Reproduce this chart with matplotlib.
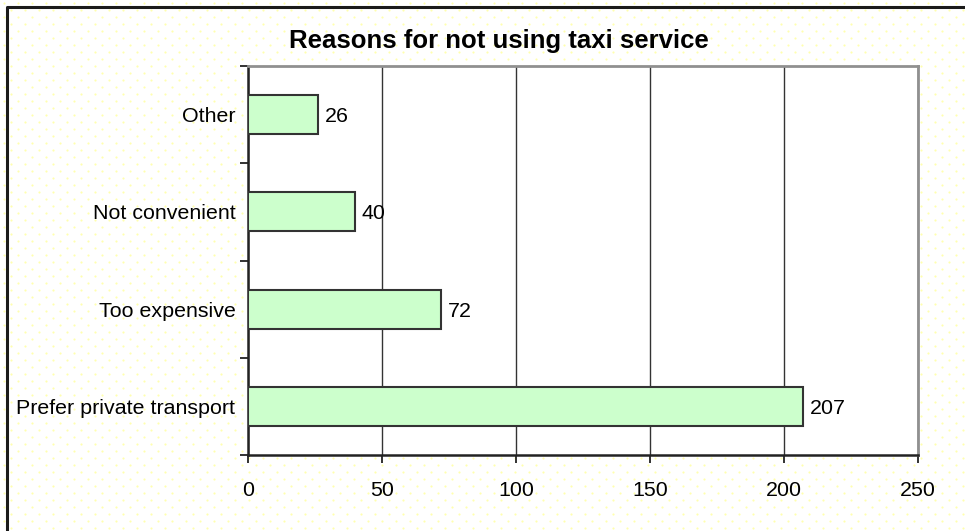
import numpy as np
import matplotlib
matplotlib.use("Agg")
import matplotlib.pyplot as plt

categories = ["Prefer private transport", "Too expensive", "Not convenient", "Other"]
counts = [207, 72, 40, 26]
x_ticks = [0, 50, 100, 150, 200, 250]

plt.rcParams["font.family"] = ["Liberation Sans", "DejaVu Sans"]

W, H = 965, 531
fs = 15.4
fig = plt.figure(figsize=(W / 100, H / 100), dpi=100)
fig.patch.set_facecolor("white")

# dotted background, like the excel chart area fill
bg = fig.add_axes([0, 0, 1, 1], zorder=-10)
bg.set_xlim(0, W)
bg.set_ylim(H, 0)
bg.axis("off")
gx, gy = np.meshgrid(np.arange(4, W, 14), np.arange(3, H, 7))
gx = gx + (np.arange(gy.shape[0])[:, None] % 2) * 7
bg.scatter(gx.ravel(), gy.ravel(), s=2.5, color="#FFFFB0", linewidths=0)
# outer frame (only top and left visible)
bg.plot([6.5, 6.5, W], [H, 6.5, 6.5], color="#1a1a1a", lw=2.2, solid_capstyle="butt")

ax = fig.add_axes([248 / W, 1 - 455 / H, (918 - 248) / W, (455 - 66) / H])
ax.set_facecolor("white")

y = np.arange(len(categories))
ax.barh(y, counts, height=0.4, color="#CCFFCC", edgecolor="#333333", linewidth=1.5, zorder=3)
for yi, v in zip(y, counts):
    ax.text(v + 2.5, yi, str(v), va="center_baseline", ha="left", fontsize=fs, zorder=4)

ax.set_xlim(0, 250)
ax.set_ylim(-0.5, len(categories) - 0.5)
ax.set_xticks(x_ticks)
ax.set_xticklabels([str(t) for t in x_ticks], fontsize=fs)
ax.xaxis.grid(True, color="#333333", linewidth=1)
ax.set_axisbelow(True)

ax.set_yticks(np.arange(-0.5, len(categories), 1.0))
ax.set_yticklabels([])
ax.set_yticks(y, minor=True)
ax.set_yticklabels(categories, minor=True, fontsize=fs)
ax.tick_params(axis="y", which="major", length=6, width=1.3, color="#222222")
ax.tick_params(axis="y", which="minor", length=0, pad=9)
ax.tick_params(axis="x", length=6, width=1.3, color="#222222", pad=13)

for s in ["left", "bottom"]:
    ax.spines[s].set_color("#222222")
    ax.spines[s].set_linewidth(1.8)
for s in ["top", "right"]:
    ax.spines[s].set_color("#909090")
    ax.spines[s].set_linewidth(2)

fig.text(499 / W, 1 - 41 / H, "Reasons for not using taxi service", ha="center", va="center",
         fontsize=18.5, fontweight="bold")

fig.savefig("out.png", dpi=100)
